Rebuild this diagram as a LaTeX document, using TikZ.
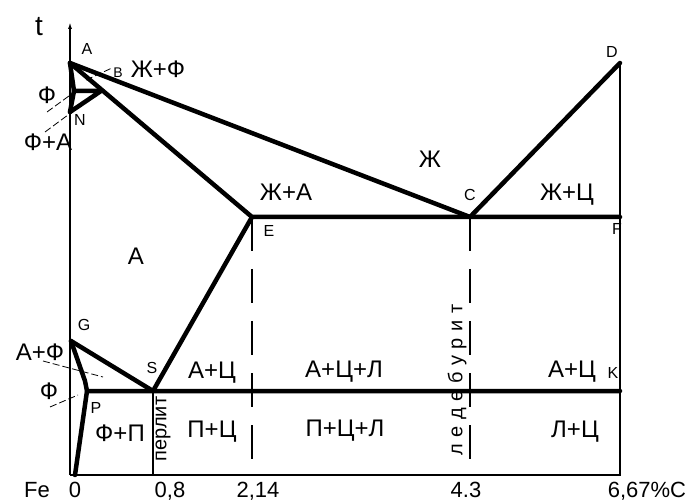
\documentclass[tikz,border=0pt]{standalone}
\usepackage{fontspec}
\setmainfont{Liberation Sans}
\usetikzlibrary{arrows.meta}
\newcommand\lsx{\hspace{6.5pt}}
\begin{document}
\begin{tikzpicture}[x=1pt,y=-1pt,
  thk/.style={line width=4.5pt, line cap=round, line join=round},
  thn/.style={line width=1.4pt},
  ldr/.style={line width=0.8pt, dash pattern=on 7pt off 3pt},
  dsh/.style={line width=1.4pt, dash pattern=on 34pt off 18pt},
  reg/.style={inner sep=0pt, font=\fontsize{24}{24}\selectfont},
  ptl/.style={inner sep=0pt, font=\fontsize{16}{16}\selectfont},
  axl/.style={inner sep=0pt, anchor=base, font=\fontsize{22}{22}\selectfont}]
\useasboundingbox (0,0) rectangle (693,502);
% key points
\coordinate (A) at (70,63);
\coordinate (H) at (74,91);
\coordinate (J) at (101,91);
\coordinate (N) at (70,112);
\coordinate (C) at (470,217);
\coordinate (E) at (252,217);
\coordinate (F) at (620,217);
\coordinate (D) at (620,63);
\coordinate (G) at (71,341);
\coordinate (GP) at (85,381);
\coordinate (S) at (153,391);
\coordinate (P) at (87,391);
\coordinate (K) at (620,391);
\coordinate (Q) at (75,475);
\coordinate (O) at (70,475);
\coordinate (T) at (70,22);
\coordinate (X08) at (153,475);
\coordinate (X214) at (252,475);
\coordinate (X43) at (470,475);
\coordinate (X667) at (620,475);
% thin lines
\draw[thn,-{Latex[length=7pt,width=4pt,open]}] (O) -- (T);
\draw[thn] (O) -- (X667) -- (D);
\draw[thn] (S) -- (X08);
\draw[dsh] (E) -- (X214);
\draw[dsh] (C) -- (X43);
% leaders
\coordinate (lb1) at (86,80);   \coordinate (lb2) at (112,68);
\coordinate (lf1) at (47,112);  \coordinate (lf2) at (73,93);
\coordinate (lfa1) at (45,132); \coordinate (lfa2) at (72,112);
\coordinate (laf1) at (43,361); \coordinate (laf2) at (103,377);
\coordinate (lf3) at (50,407);  \coordinate (lf4) at (78,395);
\draw[ldr] (lb1) -- (lb2);
\draw[ldr] (lf1) -- (lf2);
\draw[ldr] (lfa1) -- (lfa2);
\draw[ldr] (laf1) -- (laf2);
\draw[ldr] (lf3) -- (lf4);
% thick lines
\draw[thk] (A) -- (C) -- (D);
\draw[thk] (A) -- (E) -- (F);
\draw[thk] (A) -- (H) -- (J) -- (N);
\draw[thk] (H) -- (N);
\draw[thk] (E) -- (S);
\draw[thk] (G) -- (S);
\draw[thk] (G) -- (GP) -- (P) -- (K);
\draw[thk] (P) -- (Q);
% point labels
\node[ptl] (lA) at (87,49) {A};
\node[ptl,font=\fontsize{14}{14}\selectfont] (lB) at (118,73) {B};
\node[ptl] (lN) at (80,120) {N};
\node[ptl] (lG) at (84,325) {G};
\node[ptl] (lS) at (152,368) {S};
\node[ptl] (lP) at (96,408) {P};
\node[ptl] (lE) at (269,231) {E};
\node[ptl] (lC) at (470,195) {C};
\node[ptl] (lD) at (612,52) {D};
\node[ptl] (lF) at (617,229) {F};
\node[ptl] (lK) at (613,373) {K};
% region labels
\node[reg] (rZF) at (158,69) {Ж+Ф};
\node[reg] (rF1) at (47,95) {Ф};
\node[reg] (rFA) at (48,142) {Ф+А};
\node[reg] (rZ) at (430,159) {Ж};
\node[reg] (rZA) at (286,192) {Ж+А};
\node[reg] (rZC) at (567,195) {Ж+Ц};
\node[reg] (rA) at (136,256) {А};
\node[reg] (rAF) at (40,352) {А+Ф};
\node[reg] (rF2) at (49,391) {Ф};
\node[reg] (rAC1) at (212,373) {А+Ц};
\node[reg] (rACL) at (344,372) {А+Ц+Л};
\node[reg] (rAC2) at (572,372) {А+Ц};
\node[reg] (rFP) at (120,433) {Ф+П};
\node[reg] (rPC) at (212,432) {П+Ц};
\node[reg] (rPCL) at (345,431) {П+Ц+Л};
\node[reg] (rLC) at (575,432) {Л+Ц};
\node[inner sep=0pt,rotate=90,font=\fontsize{20}{20}\selectfont] (perl) at (163,429) {перлит};
\node[inner sep=0pt,rotate=90,font=\fontsize{20}{20}\selectfont] (led) at (457,380) {л\lsx е\lsx д\lsx е\lsx б\lsx у\lsx р\lsx и\lsx т};
% axis labels
\node[inner sep=0pt,font=\fontsize{28}{28}\selectfont] (lt) at (39,27) {t};
\node[axl] (lFe) at (37,497) {Fe};
\node[axl] (l0) at (75,497) {0};
\node[axl] (l08) at (170,497) {0,8};
\node[axl] (l214) at (258,497) {2,14};
\node[axl] (l43) at (466,497) {4.3};
\node[axl] (l667) at (647,497) {6,67\%С};
\end{tikzpicture}
\end{document}
